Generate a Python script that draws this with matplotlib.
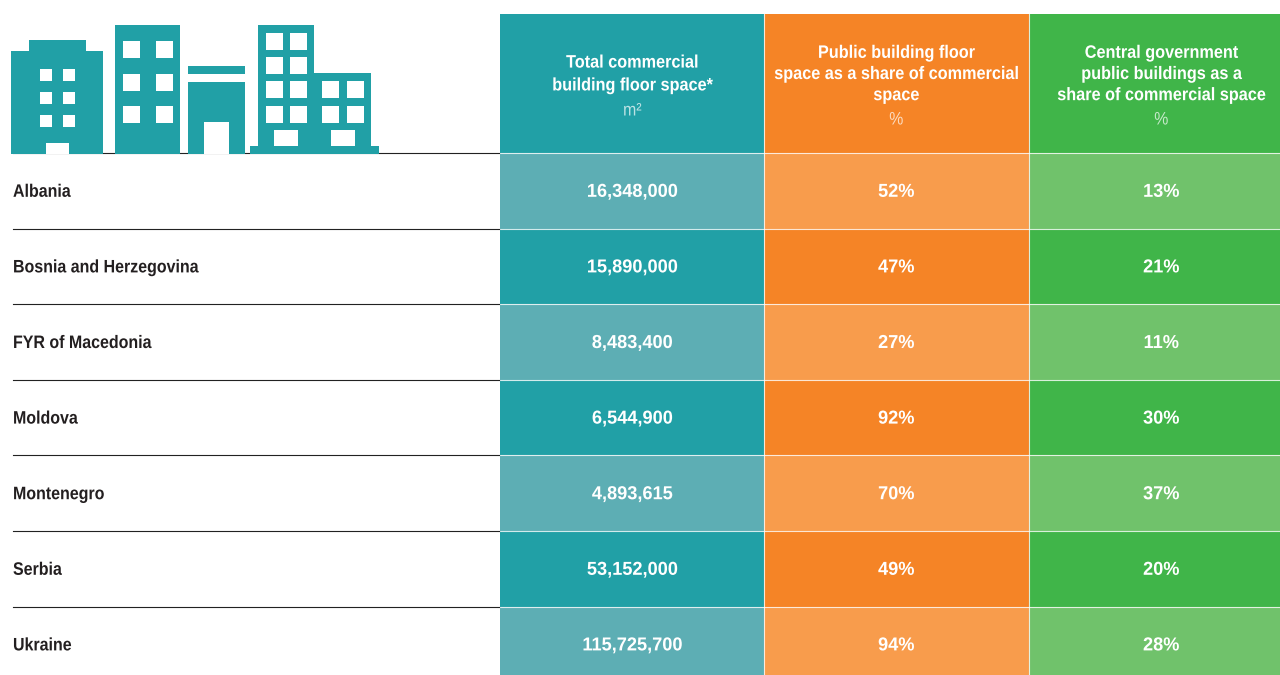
"""
Commercial building floor space table with building icon.
"""

import matplotlib
matplotlib.use("Agg")
import matplotlib.pyplot as plt
from matplotlib.patches import Rectangle
from matplotlib.patheffects import AbstractPathEffect
from matplotlib.transforms import Affine2D

COUNTRIES = ["Albania", "Bosnia and Herzegovina", "FYR of Macedonia", "Moldova",
             "Montenegro", "Serbia", "Ukraine"]
FLOOR_SPACE = ["16,348,000", "15,890,000", "8,483,400", "6,544,900",
               "4,893,615", "53,152,000", "115,725,700"]
PUBLIC_SHARE = ["52%", "47%", "27%", "92%", "70%", "49%", "94%"]
CENTRAL_SHARE = ["13%", "21%", "11%", "30%", "37%", "20%", "28%"]

HEADERS = ["Total commercial\nbuilding floor space*",
           "Public building floor\nspace as a share of commercial\nspace",
           "Central government\npublic buildings as a\nshare of commercial space"]
UNITS = ["m\u00b2", "%", "%"]

TEAL = ("#21A0A6", "#5DAEB4")
ORANGE = ("#F58426", "#F89C4C")
GREEN = ("#40B549", "#70C26B")

# pixel layout
COL_EDGES = [500, 764, 1029, 1280]
COL_W = 264.5
HEAD_TOP, HEAD_BOTTOM = 14, 153
ROW_H = 75.6

# icon pieces: (x0, y0, x1, y1)
ICON_SOLID = [(11, 51, 103, 154), (29, 40, 86, 52), (115, 25, 180, 154),
              (188, 65.5, 245, 73.5), (188, 82, 245, 154), (258, 25, 314, 147),
              (314, 73, 371, 147), (250, 146, 379, 154)]
ICON_HOLES = [(46, 143, 69, 154), (204, 122, 229, 154), (274, 130, 298, 146),
              (331, 130, 355, 146)]
ICON_HOLES += [(x, y, x + 11.5, y + 11.5) for x in (40, 63) for y in (69, 92, 115)]
ICON_HOLES += [(x, y, x + 16.5, y + 16.5) for x in (123, 156) for y in (41, 74, 106)]
ICON_HOLES += [(x, y, x + 16.5, y + 16.5) for x in (266, 290) for y in (33, 57, 81, 106)]
ICON_HOLES += [(x, y, x + 16.5, y + 16.5) for x in (322, 347) for y in (81, 106)]

plt.rcParams["font.family"] = ["Liberation Sans", "DejaVu Sans"]


class Squeeze(AbstractPathEffect):
    """Narrow each text line horizontally, no condensed font is installed."""

    def __init__(self, sx, centered=True):
        super().__init__()
        self.sx = sx
        self.centered = centered

    def draw_path(self, renderer, gc, tpath, affine, rgbFace=None):
        shift = 0
        if self.centered:
            ext = tpath.get_extents()
            shift = (ext.x0 + ext.x1) / 2 * (1 - self.sx)
        squeezed = Affine2D().scale(self.sx, 1).translate(shift, 0) + affine
        renderer.draw_path(gc, tpath, squeezed, rgbFace)


def box(ax, rect, color, z=1):
    x0, y0, x1, y1 = rect
    ax.add_patch(Rectangle((x0, y0), x1 - x0, y1 - y0, fc=color, ec="none", zorder=z))


def main():
    fig = plt.figure(figsize=(12.8, 6.75), dpi=100)
    ax = fig.add_axes([0, 0, 1, 1])
    ax.set_xlim(0, 1280)
    ax.set_ylim(675, 0)
    ax.axis("off")

    for rect in ICON_SOLID:
        box(ax, rect, TEAL[0], 3)
    for rect in ICON_HOLES:
        box(ax, rect, "white", 4)

    columns = [FLOOR_SPACE, PUBLIC_SHARE, CENTRAL_SHARE]
    shades = [TEAL, ORANGE, GREEN]

    for c, (vals, shade) in enumerate(zip(columns, shades)):
        x0, x1 = COL_EDGES[c], COL_EDGES[c + 1]
        xc = x0 + COL_W / 2
        box(ax, (x0, HEAD_TOP, x1, HEAD_BOTTOM), shade[0])
        two_lines = HEADERS[c].count("\n") == 1
        ax.text(xc, 74.5 if two_lines else 74.5, HEADERS[c], color="white", fontsize=13,
                fontweight="bold", ha="center", va="center",
                linespacing=1.45 if two_lines else 1.32,
                path_effects=[Squeeze(0.9)])
        ax.text(xc, 111 if two_lines else 120, UNITS[c], color="white", alpha=0.7,
                fontsize=13, ha="center", va="center", path_effects=[Squeeze(0.88)])
        for r, val in enumerate(vals):
            y0 = HEAD_BOTTOM + r * ROW_H
            box(ax, (x0, y0, x1, y0 + ROW_H), shade[1] if r % 2 == 0 else shade[0])
            ax.text(xc, y0 + ROW_H / 2 + 1.5, val, color="white", fontsize=13.5,
                    fontweight="bold", ha="center", va="center",
                    path_effects=[Squeeze(0.97)])

    # white gaps between columns and rows
    for x in COL_EDGES[1:-1]:
        ax.plot([x, x], [HEAD_TOP, 675], color="white", lw=0.8, alpha=0.8, zorder=2)
    for r in range(len(COUNTRIES)):
        y0 = HEAD_BOTTOM + r * ROW_H
        ax.plot([500, 1280], [y0, y0], color="white", lw=0.8, alpha=0.8, zorder=2)
        ax.plot([13, 499], [y0, y0], color="#222222", lw=0.8, zorder=2)
        ax.text(13, y0 + ROW_H / 2 + 1.5, COUNTRIES[r], color="#231F20", fontsize=13,
                fontweight="bold", ha="left", va="center",
                path_effects=[Squeeze(0.885, centered=False)])

    fig.savefig("out.png", dpi=100)


if __name__ == "__main__":
    main()
